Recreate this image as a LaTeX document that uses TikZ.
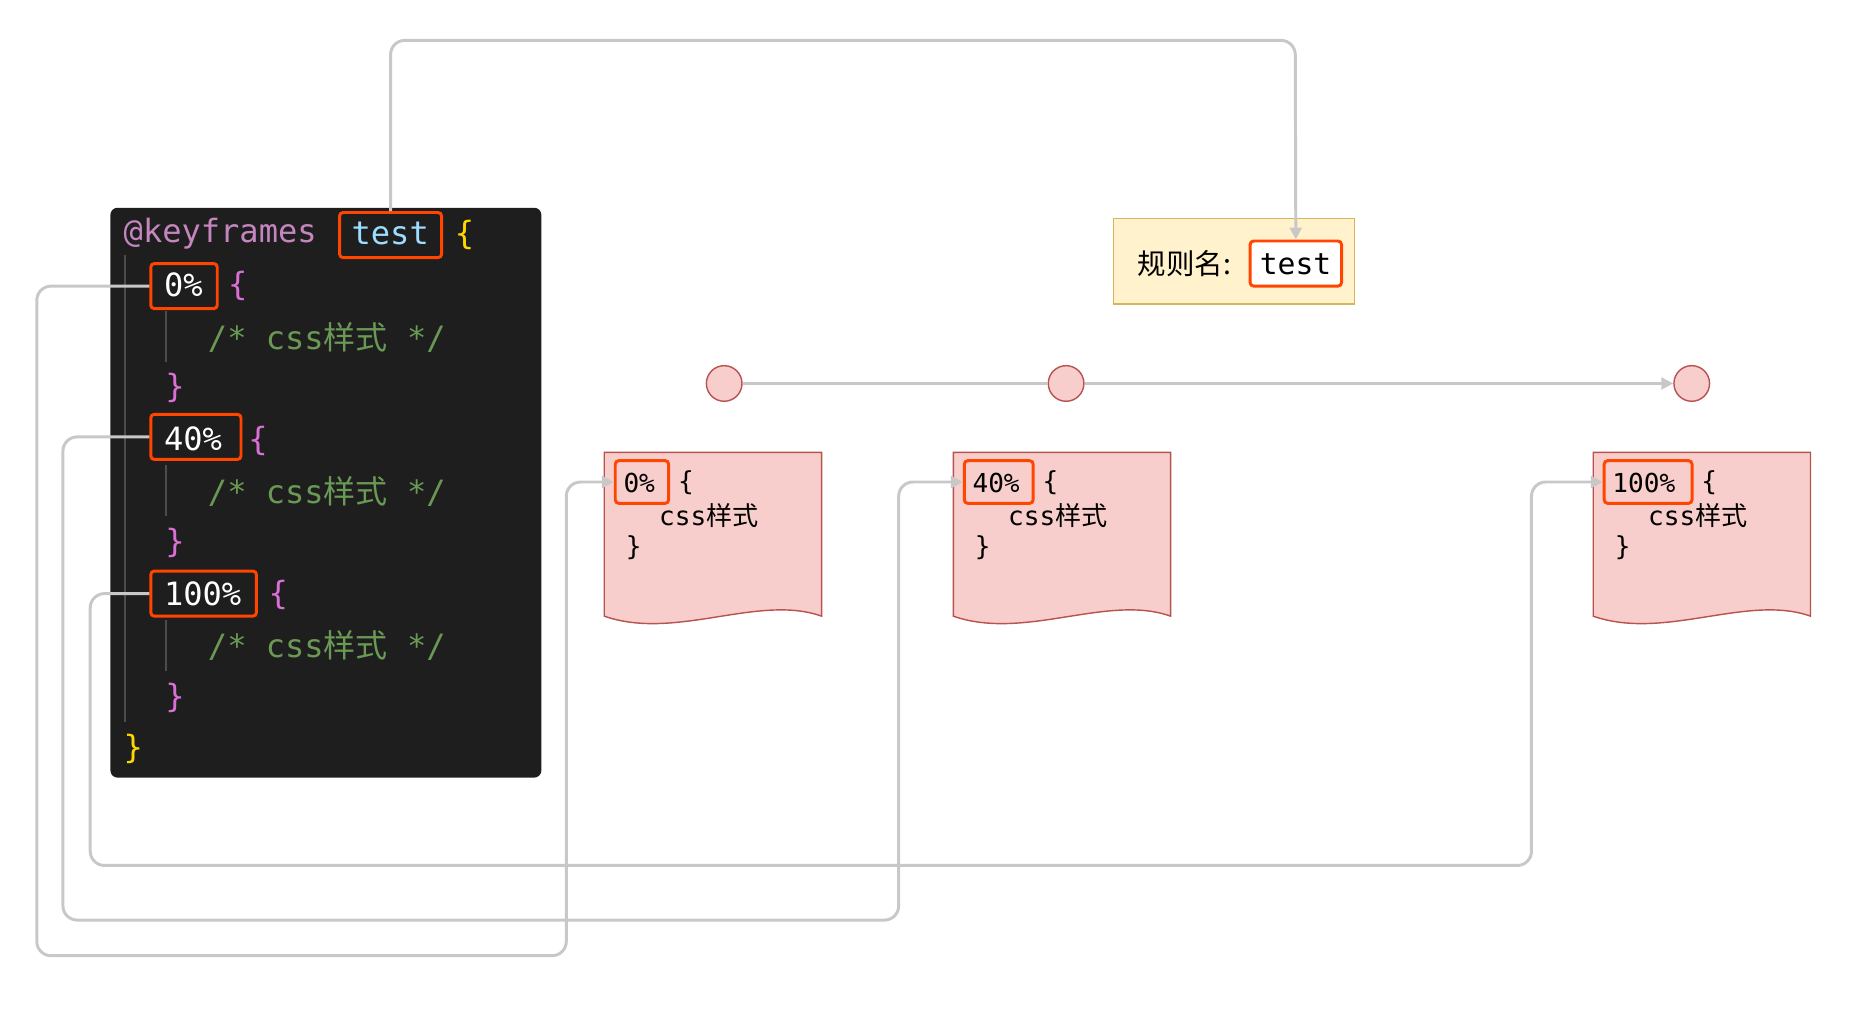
\documentclass[tikz,border=0pt]{standalone}
\usepackage{fontspec}
\setmonofont{DejaVu Sans Mono}
\newfontfamily\cjk{Noto Sans CJK SC}
\usetikzlibrary{arrows.meta}
\definecolor{codebg}{HTML}{1E1E1E}
\definecolor{kwpur}{HTML}{C586C0}
\definecolor{idblue}{HTML}{9CDCFE}
\definecolor{brY}{HTML}{FFD700}
\definecolor{brM}{HTML}{DA70D6}
\definecolor{cmt}{HTML}{6A9955}
\definecolor{hl}{HTML}{FF4500}
\definecolor{conn}{HTML}{C8C8C8}
\definecolor{pinkF}{HTML}{F8CECC}
\definecolor{pinkS}{HTML}{B85450}
\definecolor{yelF}{HTML}{FFF2CC}
\definecolor{yelS}{HTML}{D6B656}
\begin{document}
\begin{tikzpicture}[x=1pt,y=-1pt,
  code/.style={font=\fontsize{27}{27}\selectfont\ttfamily,anchor=west,inner sep=0pt},
  small/.style={font=\fontsize{22}{22}\selectfont\ttfamily,anchor=west,inner sep=0pt},
  hbox/.style={draw=hl,line width=2.5pt,rounded corners=3pt,inner sep=0pt},
  wire/.style={draw=conn,line width=2.5pt,rounded corners=12pt},
  arr/.style={-{Triangle[length=10pt,width=10pt]}},
  dot/.style={circle,fill=pinkF,draw=pinkS,line width=1.2pt,minimum size=30pt,inner sep=0pt},
  doc/.style={fill=pinkF,draw=pinkS,line width=1.2pt}]
\useasboundingbox (0,0) rectangle (1560,852);
% code box
\fill[codebg,rounded corners=6pt] (93,175) rectangle (456,655);
\draw[gray!60!black,line width=1.5pt] (105,215)--(105,608);
\foreach \y in {262,392,522} \draw[gray!60!black,line width=1.5pt] (140,\y)--(140,\y+43);
\node[code,text=kwpur] at (104,197) {@keyframes};
\node[hbox,minimum width=86pt,minimum height=38pt] (t1) at (329,198) {};
\node[code,text=idblue] at (296,197) {test};
\node[code,text=brY] at (383,198) {\{};
\node[hbox,minimum width=56pt,minimum height=38pt] (p0) at (155,241) {};
\node[code,text=white] at (138,240) {0\%};
\node[code,text=brM] at (192,241) {\{};
\node[hbox,minimum width=76pt,minimum height=38pt] (p40) at (165,368) {};
\node[code,text=white] at (138,370) {40\%};
\node[code,text=brM] at (209,371) {\{};
\node[hbox,minimum width=89pt,minimum height=38pt] (p100) at (171.5,500) {};
\node[code,text=white] at (138,500) {100\%};
\node[code,text=brM] at (226,501) {\{};
\foreach \y in {284,414,544} \node[code,text=cmt] at (175,\y) {/* css{\cjk 样式} */};
\foreach \y in {327,457,588} \node[code,text=brM] at (139,\y) {\}};
\node[code,text=brY] at (104,631) {\}};
% yellow box
\draw[fill=yelF,draw=yelS,line width=1.2pt] (938,184) rectangle (1141,256);
\node[font=\fontsize{24}{24}\selectfont\cjk,anchor=west,inner sep=0pt] at (958,222) {规则名:};
\node[hbox,minimum width=77pt,minimum height=38pt,fill=white] (t2) at (1091.5,222) {};
\node[code,font=\fontsize{25}{25}\selectfont\ttfamily] at (1061,223) {test};
% timeline
\node[dot] (c1) at (610,323) {};
\node[dot] (c2) at (898,323) {};
\node[dot] (c3) at (1425,323) {};
\draw[conn,line width=2pt] (c1)--(c2);
\draw[conn,line width=2pt,arr] (c2)--(c3);
% documents
\foreach \x/\lab/\w/\n in {509/0\%/45/d0,803/40\%/58/d40,1342/100\%/74/d100}{
  \draw[doc] (\x,381)--(\x+183,381)--(\x+183,519) .. controls (\x+130,500) and (\x+60,540) .. (\x,519)--cycle;
  \node[hbox,minimum width=\w pt,minimum height=36pt,anchor=west] (\n) at (\x+8,406) {};
  \node[small] at (\x+16,407) {\lab};
  \node[small] at (\x+\w+17,407) {\{};
  \node[small] at (\x+46,434) {css{\cjk 样式}};
  \node[small] at (\x+18,461) {\}};
}
% connectors
\draw[wire,arr] (t1.north)--(329,34)--(1091,34)--(t2.north);
\draw[wire,arr] (p0.west)--(31,241)--(31,805)--(477,805)--(477,406)--(d0.west);
\draw[wire,arr] (p40.west)--(53,368)--(53,775)--(757,775)--(757,406)--(d40.west);
\draw[wire,arr] (p100.west)--(76,500)--(76,729)--(1290,729)--(1290,406)--(d100.west);
\end{tikzpicture}
\end{document}
